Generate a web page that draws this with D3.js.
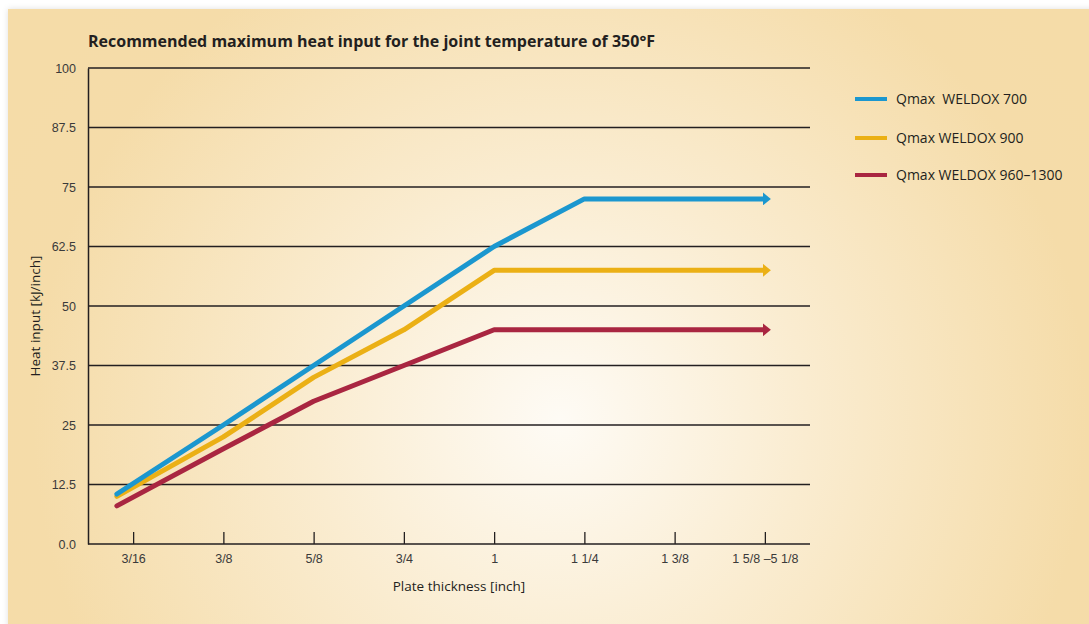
<!DOCTYPE html>
<html>
<head>
<meta charset="utf-8">
<script src="https://cdn.jsdelivr.net/npm/d3@7"></script>
<style>
  body { margin: 0; background: #fff; }
  svg { display: block; font-family: "Open Sans", "Noto Sans", sans-serif; }
</style>
</head>
<body>
<svg id="chart" width="1089" height="624"></svg>
<script>
// data {{{ //
const categories = ["3/16", "3/8", "5/8", "3/4", "1", "1 1/4", "1 3/8", "1 5/8 \u20135 1/8"];
const yTicks = [0, 12.5, 25, 37.5, 50, 62.5, 75, 87.5, 100];
// x given as category position (0 = first tick); start points sit a bit left of 3/16
const xPos = [-0.18, 1, 2, 3, 4, 5, 6, 7];
const weldox700 = [10.5, 25, 37.5, 50, 62.5, 72.5, 72.5, 72.5];
const weldox900 = [10, 22.5, 35, 45, 57.5, 57.5, 57.5, 57.5];
const weldox960 = [8, 20, 30, 37.5, 45, 45, 45, 45];
const seriesNames = ["Qmax  WELDOX 700", "Qmax WELDOX 900", "Qmax WELDOX 960\u20131300"];
const seriesColors = ["#1b97cf", "#ebb015", "#a92641"];
// }}} data //

const svg = d3.select("#chart");
const defs = svg.append("defs");

// background panel {{{ //
const grad = defs.append("radialGradient").attr("id", "bg")
  .attr("gradientUnits", "userSpaceOnUse")
  .attr("cx", 560).attr("cy", 420).attr("r", 620);
grad.append("stop").attr("offset", "0%").attr("stop-color", "#fefbf5");
grad.append("stop").attr("offset", "40%").attr("stop-color", "#faecd0");
grad.append("stop").attr("offset", "85%").attr("stop-color", "#f5dca9");
grad.append("stop").attr("offset", "100%").attr("stop-color", "#f5dca8");

const shadow = defs.append("filter").attr("id", "shadow")
  .attr("x", "-5%").attr("y", "-5%").attr("width", "110%").attr("height", "110%");
shadow.append("feDropShadow").attr("dx", 0).attr("dy", 0).attr("stdDeviation", 3)
  .attr("flood-color", "#000").attr("flood-opacity", 0.12);

svg.append("rect")
  .attr("x", 8).attr("y", 9).attr("width", 1089).attr("height", 630)
  .attr("fill", "url(#bg)").attr("filter", "url(#shadow)");
// }}} background panel //

const margin = { left: 88, right: 810, top: 68, bottom: 544 };
const x = d3.scaleLinear().domain([-0.5, 7.5]).range([margin.left, margin.right]);
const y = d3.scaleLinear().domain([0, 100]).range([margin.bottom, margin.top]);

const g = svg.append("g");

// gridlines {{{ //
g.append("g")
  .selectAll("line")
  .data(yTicks.filter(d => d > 0))
  .enter().append("line")
  .attr("x1", margin.left).attr("x2", margin.right)
  .attr("y1", d => y(d)).attr("y2", d => y(d))
  .attr("stroke", "#231f20").attr("stroke-width", 1.3);
// }}} gridlines //

// y-axis {{{ //
const yAxis = g.append("g")
  .attr("transform", `translate(${margin.left},0)`)
  .call(d3.axisLeft(y).tickValues(yTicks).tickSize(0).tickPadding(12)
    .tickFormat(d => d === 0 ? "0.0" : d3.format("")(d)));
yAxis.select(".domain").attr("stroke", "#231f20").attr("stroke-width", 1.5);
yAxis.selectAll(".tick text")
  .attr("fill", "#3a3a3a").style("font-size", "12.5px");

g.append("text")
  .attr("transform", `translate(40,${(margin.top + margin.bottom) / 2 + 10}) rotate(-90)`)
  .attr("text-anchor", "middle")
  .attr("fill", "#231f20")
  .style("font-size", "13.5px")
  .text("Heat input [kJ/inch]");
// }}} y-axis //

// x-axis {{{ //
const xAxis = g.append("g")
  .attr("transform", `translate(0,${margin.bottom})`)
  .call(d3.axisBottom(x).tickValues(d3.range(categories.length))
    .tickFormat(i => categories[i]).tickSize(0).tickPadding(10));
xAxis.select(".domain").remove();
xAxis.selectAll(".tick text")
  .attr("fill", "#3a3a3a").style("font-size", "12.5px");
xAxis.selectAll(".tick").append("line")
  .attr("y1", 0).attr("y2", -12)
  .attr("stroke", "#231f20").attr("stroke-width", 1.3);
g.append("line")
  .attr("x1", margin.left).attr("x2", margin.right)
  .attr("y1", margin.bottom).attr("y2", margin.bottom)
  .attr("stroke", "#231f20").attr("stroke-width", 1.5);

g.append("text")
  .attr("x", 459)
  .attr("y", 591)
  .attr("text-anchor", "middle")
  .attr("fill", "#231f20")
  .style("font-size", "13.5px")
  .text("Plate thickness [inch]");
// }}} x-axis //

// lines {{{ //
const allSeries = [weldox700, weldox900, weldox960];
allSeries.forEach(function(vals, i) {
  defs.append("marker")
    .attr("id", "arrow" + i)
    .attr("viewBox", "0 0 10 10")
    .attr("refX", 2.5).attr("refY", 5)
    .attr("markerUnits", "userSpaceOnUse")
    .attr("markerWidth", 8).attr("markerHeight", 13)
    .attr("preserveAspectRatio", "none")
    .attr("orient", "auto")
    .append("path").attr("d", "M0,0 L10,5 L0,10 Z")
    .attr("fill", seriesColors[i]);
});

const line = d3.line()
  .x((d, i) => x(xPos[i]))
  .y(d => y(d));

g.append("g")
  .selectAll("path")
  .data(allSeries.slice().reverse())
  .enter().append("path")
  .attr("d", d => line(d))
  .attr("fill", "none")
  .attr("stroke", (d, i) => seriesColors[2 - i])
  .attr("stroke-width", 5)
  .attr("stroke-linecap", "round")
  .attr("stroke-linejoin", "round")
  .attr("marker-end", (d, i) => `url(#arrow${2 - i})`);
// }}} lines //

// title {{{ //
g.append("text")
  .attr("x", 88).attr("y", 47)
  .attr("fill", "#231f20")
  .attr("font-weight", "bold")
  .style("font-size", "16px")
  .text("Recommended maximum heat input for the joint temperature of 350\u00b0F");
// }}} title //

// legend {{{ //
const legend = g.append("g")
  .selectAll("g")
  .data(seriesNames)
  .enter().append("g")
  .attr("transform", (d, i) => `translate(855,${[99, 138, 175][i]})`);
legend.append("line")
  .attr("x1", 0).attr("x2", 32)
  .attr("stroke", (d, i) => seriesColors[i])
  .attr("stroke-width", 4);
legend.append("text")
  .attr("x", 41).attr("dy", "0.35em")
  .attr("fill", "#231f20")
  .style("font-size", "14px")
  .style("white-space", "pre")
  .text(d => d);
// }}} legend //
</script>
</body>
</html>
